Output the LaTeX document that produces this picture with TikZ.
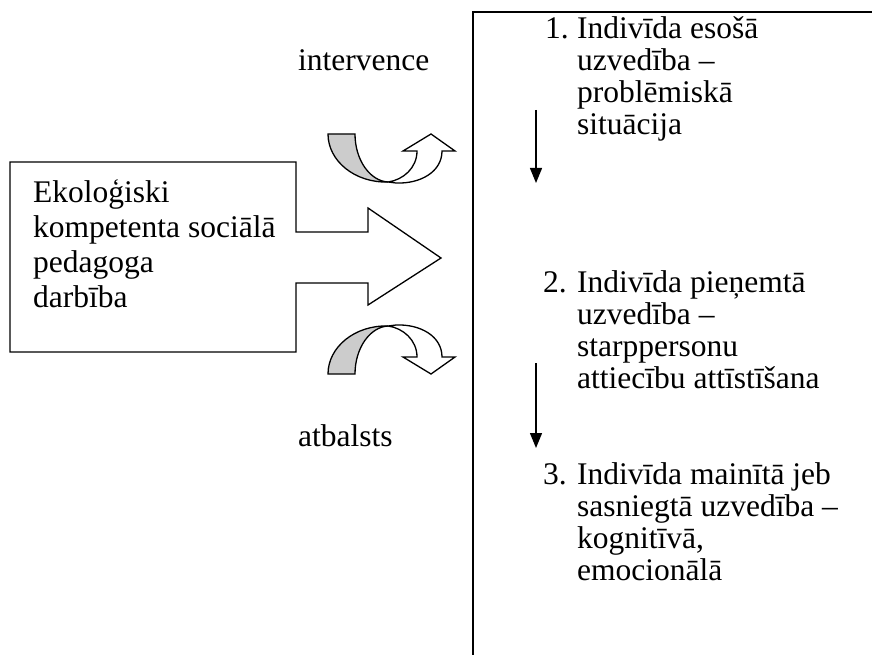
\documentclass[tikz,border=0pt]{standalone}
\usepackage{fontspec}
\setmainfont{Liberation Serif}
\usetikzlibrary{arrows.meta}
\newcommand\fsleft{\fontsize{31.5}{35}\selectfont}
\newcommand\fsright{\fontsize{31.5}{32}\selectfont}
\newcommand\lnstrut{\rule{0pt}{24pt}}
\tikzset{
  outline/.style={line width=1.3pt, line join=miter},
  txt/.style={anchor=north west, inner sep=0pt, align=left, font=\fsright},
  boxtxt/.style={txt, font=\fsleft},
  downarrow/.style={line width=1.3pt, -{Triangle[width=12pt,length=15pt]}},
  % U-turn block arrow: grey back band and white front band with head
  turnarrow/.pic={
    \draw[outline, fill=white] (0,48) .. controls (15,46) and (29,34) .. (29,17)
      -- (15,17) -- (43,0) -- (67,17) -- (54,17)
      .. controls (54,38) and (32,50) .. (8,49) -- cycle;
    \draw[outline, fill=gray!40] (-33,0) .. controls (-33,26) and (-18,47) .. (0,48)
      .. controls (-33,49) and (-60,27) .. (-60,0) -- cycle;
  }
}
\begin{document}
\begin{tikzpicture}[x=1pt, y=-1pt]
\useasboundingbox (0,0) rectangle (872,655);
\clip (0,0) rectangle (872,655);

% right frame
\draw[line width=1.8pt] (473,670) -- (473,12) -- (890,12);

% box with block arrow
\draw[outline, fill=white] (10,162) -- (296,162) -- (296,232) -- (368,232) -- (368,208)
  -- (441,258) -- (368,305) -- (368,283) -- (296,283) -- (296,352) -- (10,352) -- cycle;
\node[boxtxt] (actor) at (33,178) {\lnstrut Ekoloģiski\\kompetenta sociālā\\pedagoga\\darbība};

% turn arrows
\pic at (388,134) {turnarrow};
\pic[yscale=-1] at (388,374) {turnarrow};
\node[txt] (interv) at (298,46) {\lnstrut intervence};
\node[txt] (support) at (298,422) {\lnstrut atbalsts};

% numbered stages
\node[txt] (n1) at (545,14) {\lnstrut 1.};
\node[txt] (s1) at (577,14) {\lnstrut Indivīda esošā\\uzvedība –\\problēmiskā\\situācija};
\node[txt] (n2) at (543,268) {\lnstrut 2.};
\node[txt] (s2) at (577,268) {\lnstrut Indivīda pieņemtā\\uzvedība –\\starppersonu\\attiecību attīstīšana};
\node[txt] (n3) at (543,460) {\lnstrut 3.};
\node[txt] (s3) at (577,460) {\lnstrut Indivīda mainītā jeb\\sasniegtā uzvedība –\\kognitīvā,\\emocionālā};

% stage arrows
\coordinate (a1s) at (536,110);
\coordinate (a1e) at (536,183);
\coordinate (a2s) at (536,363);
\coordinate (a2e) at (536,448);
\draw[downarrow] (a1s) -- (a1e);
\draw[downarrow] (a2s) -- (a2e);
\end{tikzpicture}
\end{document}
